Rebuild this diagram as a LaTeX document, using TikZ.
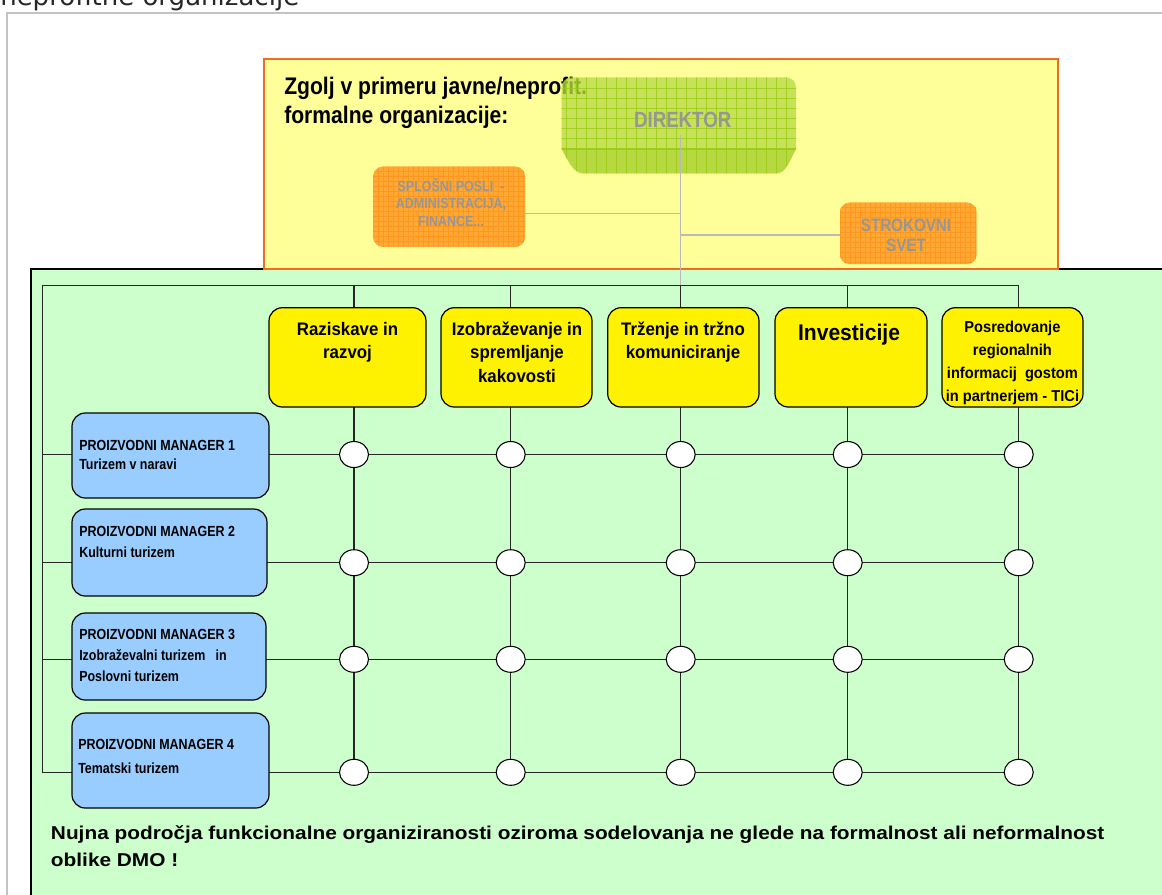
\documentclass[tikz,border=0pt]{standalone}
\usepackage{fontspec}
\usetikzlibrary{shapes.geometric}
\setmainfont{Liberation Sans}
\newfontfamily\fb{Liberation Sans}[FakeStretch=0.93]
\newfontfamily\fz{Liberation Sans}[FakeStretch=0.88]
\newfontfamily\fc{Liberation Sans}[FakeStretch=0.85]
\newfontfamily\fw{Liberation Sans}[FakeStretch=1.12]
\newfontfamily\dv{DejaVu Sans}
\newcommand\ctrlines[1]{\begin{tabular}[t]{@{}c@{}}#1\end{tabular}}
\newcommand\leftlines[1]{\begin{tabular}[t]{@{}l@{}}#1\end{tabular}}
\newcommand\bx[6]{\node[#6, minimum width={(#4-#2)*0.75pt}, minimum height={(#5-#3)*0.75pt}] (#1) at ({(#2+#4)/2},{(#3+#5)/2}) {};}
\definecolor{ylbg}{RGB}{255,255,153}
\definecolor{grbg}{RGB}{204,255,204}
\definecolor{orbrd}{RGB}{240,108,30}
\definecolor{mblue}{RGB}{153,204,255}
\definecolor{orfill}{RGB}{255,168,52}
\definecolor{orline}{RGB}{255,150,30}
\definecolor{dirfill}{RGB}{184,218,70}
\definecolor{dirlow}{RGB}{178,214,58}
\definecolor{dirline}{RGB}{155,203,20}
\definecolor{txgray}{RGB}{150,150,150}
\definecolor{conngray}{RGB}{185,185,185}
\definecolor{framegray}{RGB}{195,195,195}
\begin{document}
\begin{tikzpicture}[x=0.75pt,y=-0.75pt,
  fbox/.style={draw=black, line width=0.9pt, fill=yellow, rounded corners=10pt, inner sep=0},
  mbox/.style={draw=black, line width=0.9pt, fill=mblue, rounded corners=10pt, inner sep=0},
  obox/.style={fill=orfill, rounded corners=7pt, inner sep=0,
    path picture={
      \foreach \i in {0,...,40}{
        \draw[orline, line width=0.4pt] ([xshift=\i*3.75pt]path picture bounding box.north west) -- ([xshift=\i*3.75pt]path picture bounding box.south west);
        \draw[orline, line width=0.4pt] ([yshift=-\i*3.75pt]path picture bounding box.north west) -- ([yshift=-\i*3.75pt]path picture bounding box.north east);
      }}},
  circ/.style={ellipse, draw=black, line width=0.8pt, fill=white, minimum width=21.75pt, minimum height=19.5pt, inner sep=0},
  gline/.style={draw=black!85, line width=0.9pt},
  conn/.style={draw=conngray, line width=0.9pt},
  ftext/.style={anchor=base, inner sep=0, text=black},
  otext/.style={anchor=base, inner sep=0, text=txgray},
  mtext/.style={anchor=base west, inner sep=0, text=black, font=\fc\bfseries\fontsize{11pt}{#1}\selectfont},
]
\useasboundingbox (0,0) rectangle (1162,894);
\clip (0,0) rectangle (1162,894);
\fill[white] (0,0) rectangle (1162,894);

% header fragment and outer frame
\node[anchor=base west, inner sep=0, text=black!85, font=\dv\fontsize{19.5pt}{20pt}\selectfont] (hdr) at (0,5) {neprofitne organizacije};
\coordinate (fr1) at (7,900);
\coordinate (fr2) at (7,13);
\coordinate (fr3) at (1170,13);
\draw[framegray, line width=1.5pt] (fr1) -- (fr2) -- (fr3);

% green and yellow panels
\draw[fill=grbg, draw=black, line width=1.4pt] (31,269) rectangle (1185,915);
\draw[fill=ylbg, draw=orbrd, line width=2pt] (264,59) rectangle (1058,269);

% title in yellow panel
\node[anchor=base west, inner sep=0, font=\fz\bfseries\fontsize{18pt}{21.75pt}\selectfont] (zg) at (284,94.3) {\leftlines{Zgolj v primeru javne/neprofit.\\formalne organizacije:}};

% DIREKTOR shape
\begin{scope}[fill opacity=0.78, draw opacity=0.78]
\begin{scope}
\clip (561.7,149) -- (561.7,87.3) .. controls (561.7,81.8) and (566.2,77.3) .. (571.7,77.3) -- (786,77.3) .. controls (791.5,77.3) and (796,81.8) .. (796,87.3) -- (796,149) .. controls (790,160) and (786,173.3) .. (776.7,173.3) -- (583,173.3) .. controls (573.4,173.3) and (567.7,160) .. (561.7,149) -- cycle;
\fill[dirfill] (555,70) rectangle (800,180);
\fill[dirlow] (555,149) rectangle (800,180);
\foreach \x in {566,576,...,796} \draw[dirline, line width=0.6pt] (\x,70) -- (\x,180);
\foreach \y in {88,98,...,148} \draw[dirline, line width=0.6pt] (555,\y) -- (800,\y);
\draw[dirline, line width=0.8pt] (555,149) -- (800,149);
\end{scope}
\end{scope}
\node[anchor=center, inner sep=0, text=txgray, font=\fc\bfseries\fontsize{16.5pt}{18pt}\selectfont] (dir) at (682.7,120) {DIREKTOR};

% orange boxes
\bx{sp}{373.3}{166.7}{525}{246.7}{obox}
\bx{sv}{840}{202.7}{976.7}{264}{obox}
\node[otext, font=\fc\bfseries\fontsize{11pt}{13.35pt}\selectfont] (spt) at (451,191) {\ctrlines{SPLOŠNI POSLI\ \ -\\ADMINISTRACIJA,\\FINANCE...}};
\node[otext, font=\fc\bfseries\fontsize{13.4pt}{15pt}\selectfont] (svt) at (906,231.3) {\ctrlines{STROKOVNI\\SVET}};

% gray connectors
\coordinate (dirb) at (680.7,135);
\coordinate (j1) at (680.7,213.3);
\coordinate (j2) at (680.7,235);
\coordinate (T3top) at (680.7,285.3);
\draw[conn] (dirb) -- (T3top);
\draw[conn] (j1) -- (j1 -| sp.east);
\draw[conn] (j2) -- (j2 -| sv.west);

% matrix frame
\coordinate (tl) at (42.3,285.3);
\foreach \c/\x in {1/354,2/510.7,3/680.7,4/847.7,5/1018.7}{
  \coordinate (T\c) at (\x,285.3);
}
\foreach \r/\y in {1/454.5,2/562.7,3/659.3,4/772.3}{
  \coordinate (L\r) at (42.3,\y);
  \coordinate (R\r) at (1034,\y);
}
\draw[gline] (L4) -- (tl) -- (T5);
\foreach \r in {1,...,4} \draw[gline] (L\r) -- (R\r);
\foreach \c/\x in {1/354,2/510.7,3/680.7,4/847.7,5/1018.7}{
  \coordinate (B\c) at (\x,772.3);
  \draw[gline] (T\c) -- (B\c);
}

% function boxes
\bx{f1}{269}{307.7}{426}{407}{fbox}
\bx{f2}{441}{307.7}{592}{407}{fbox}
\bx{f3}{607.7}{307.7}{759}{407}{fbox}
\bx{f4}{775}{307.7}{927}{407}{fbox}
\bx{f5}{942}{307.7}{1083}{407}{fbox}
\node[ftext, font=\fb\bfseries\fontsize{13.6pt}{17.6pt}\selectfont] (f1t) at (347.5,335.5) {\ctrlines{Raziskave in\\razvoj}};
\node[ftext, font=\fb\bfseries\fontsize{13.6pt}{17.6pt}\selectfont] (f2t) at (517,335.5) {\ctrlines{Izobraževanje in\\spremljanje\\kakovosti}};
\node[ftext, font=\fb\bfseries\fontsize{13.6pt}{17.6pt}\selectfont] (f3t) at (683,335.5) {\ctrlines{Trženje in tržno\\komuniciranje}};
\node[ftext, font=\fb\bfseries\fontsize{17pt}{20pt}\selectfont] (f4t) at (849,340) {Investicije};
\node[ftext, font=\fb\bfseries\fontsize{11.8pt}{17.2pt}\selectfont] (f5t) at (1012.4,332.7) {\ctrlines{Posredovanje\\regionalnih\\informacij\ \ gostom\\in partnerjem - TICi}};

% manager boxes
\bx{m1}{72}{413}{269}{498}{mbox}
\bx{m2}{72}{509}{267}{596}{mbox}
\bx{m3}{72}{613}{266}{700}{mbox}
\bx{m4}{72}{713}{269}{808}{mbox}
\node[mtext=14.4pt] (m1t) at (79,450.3) {\leftlines{PROIZVODNI MANAGER 1\\Turizem v naravi}};
\node[mtext=15.75pt] (m2t) at (79,536) {\leftlines{PROIZVODNI MANAGER 2\\Kulturni turizem}};
\node[mtext=15.75pt] (m3t) at (79,639.3) {\leftlines{PROIZVODNI MANAGER 3\\Izobraževalni turizem\ \ \ in\\Poslovni turizem}};
\node[mtext=18pt] (m4t) at (78,749.6) {\leftlines{PROIZVODNI MANAGER 4\\Tematski turizem}};

% circles
\foreach \r/\y in {1/454.5,2/562.7,3/659.3,4/772.3}{
  \foreach \c/\x in {1/354,2/510.7,3/680.7,4/847.7,5/1018.7}{
    \node[circ] (c\r\c) at (\x,\y) {};
  }
}

% bottom note
\node[anchor=base west, inner sep=0, font=\fw\bfseries\fontsize{13.95pt}{20.8pt}\selectfont] (note) at (50.7,839) {\leftlines{Nujna področja funkcionalne organiziranosti oziroma sodelovanja ne glede na formalnost ali neformalnost\\oblike DMO !}};
\end{tikzpicture}
\end{document}
